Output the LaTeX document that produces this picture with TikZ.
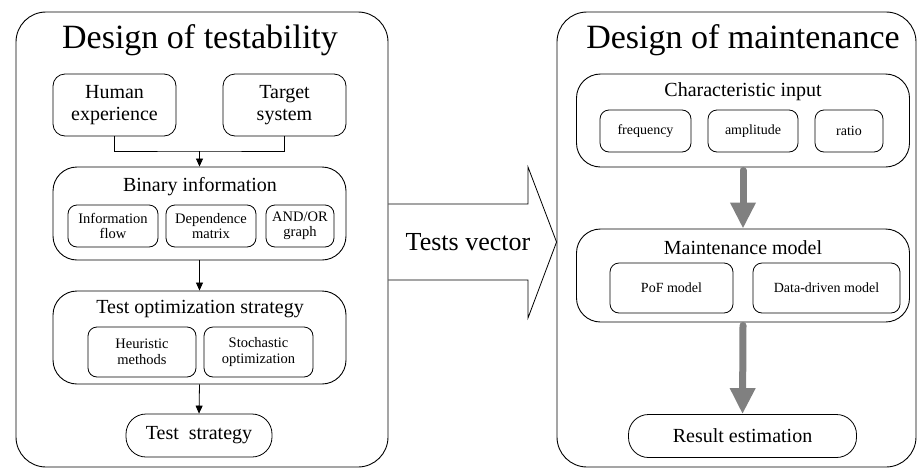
\documentclass[tikz,border=0pt]{standalone}
\usepackage{fontspec}
\setmainfont{Liberation Serif}
\usetikzlibrary{positioning, arrows.meta, calc}
\definecolor{flowgray}{HTML}{808080}
\tikzset{
  outer/.style  = {rectangle, draw, rounded corners=30pt, line width=0.9pt},
  group/.style  = {rectangle, draw, rounded corners=24pt, line width=0.9pt,
                   minimum width=293pt, minimum height=93pt},
  item/.style   = {rectangle, draw, rounded corners=9pt, line width=0.8pt, align=center,
                   inner sep=1pt, font=\fontsize{14.5}{15.5}\selectfont},
  mid/.style    = {rectangle, draw, rounded corners=12pt, line width=0.8pt, align=center,
                   minimum width=123pt, minimum height=62pt, inner sep=1pt,
                   font=\fontsize{20}{22}\selectfont},
  pill/.style   = {rectangle, draw, rounded corners=20pt, line width=0.8pt,
                   minimum height=43pt, font=\fontsize{20}{22}\selectfont},
  head/.style   = {font=\fontsize{34}{38}\selectfont},
  sub/.style    = {font=\fontsize{20}{22}\selectfont},
  flow/.style   = {line width=0.8pt, -{Triangle[length=8pt, width=7pt]}},
  thick flow/.style = {line width=7pt, draw=flowgray, line cap=round,
                   -{Triangle[length=26pt, width=24pt]}},
}

\begin{document}
\begin{tikzpicture}[x=1pt, y=-1pt]
\useasboundingbox (0,0) rectangle (918,469);

% Left part: design of testability
\node (tbox) [outer, minimum width=372pt, minimum height=455pt] at (202,239.5) {};
\node (ttitle) [head] at (200,40) {Design of testability};

\node (human)  [mid] at (114.5,105) {Human\\experience};
\node (target) [mid] at (284.5,105) {Target\\system};

\node (binary) [group] at (199.5,213.5) {};
\node (btitle) [sub] at (200,187) {Binary information};
\node (info)  [item, minimum width=90pt, minimum height=42pt] at (113,226) {Information\\flow};
\node (dep)   [item, minimum width=90pt, minimum height=42pt] at (211,226) {Dependence\\matrix};
\node (andor) [item, minimum width=68pt, minimum height=42pt] at (300,226) {AND/OR\\graph};

\node (opt) [group] at (199.5,337.5) {};
\node (otitle) [sub] at (200,309) {Test optimization strategy};
\node (heur)  [item, minimum width=108pt, minimum height=50pt] at (142,352) {Heuristic\\methods};
\node (stoch) [item, minimum width=109pt, minimum height=50pt] at (258.5,352) {Stochastic\\optimization};

\node (strat) [pill, minimum width=146pt] at (199,435.5) {Test~~strategy};

\coordinate (join) at (199.5,151);
\draw [line width=0.8pt] (human.south) |- (join) -| (target.south);
\draw [flow] (join) -- (binary.north);
\draw [flow] (binary.south) -- (opt.north);
\draw [flow] (opt.south) -- (strat.north);

% Right part: design of maintenance
\node (mbox) [outer, minimum width=359pt, minimum height=455pt] at (736.5,239.5) {};
\node (mtitle) [head] at (743,40) {Design of maintenance};

\node (charin) [group, minimum width=333pt] at (743,120.5) {};
\node (ctitle) [sub] at (743,92) {Characteristic input};
\node (freq) [item, minimum width=91pt, minimum height=42pt, font=\fontsize{14}{15}\selectfont] at (645.5,131) {frequency};
\node (ampl) [item, minimum width=90pt, minimum height=42pt, font=\fontsize{14}{15}\selectfont] at (753,131) {amplitude};
\node (ratio) [item, minimum width=68pt, minimum height=42pt, font=\fontsize{14}{15}\selectfont] at (849,131) {ratio};

\node (model) [group, minimum width=333pt] at (743,275.5) {};
\node (mdtitle) [sub] at (743,248) {Maintenance model};
\node (pof)  [item, minimum width=123pt, minimum height=50pt, font=\fontsize{14}{15}\selectfont] at (671.5,288) {PoF model};
\node (data) [item, minimum width=147pt, minimum height=50pt, font=\fontsize{14}{15}\selectfont] at (826.5,288) {Data-driven model};

\node (result) [pill, minimum width=228pt] at (742.5,436) {Result estimation};

\draw [thick flow] ([yshift=-3pt]charin.south) -- (model.north);
\draw [thick flow] ([yshift=-3pt]model.south) -- (result.north);

% Big arrow between the two parts
\coordinate (a1) at (tbox.east |- 0,204);
\coordinate (a2) at (528,204);
\coordinate (a3) at (528,167);
\coordinate (tip) at (mbox.west |- 0,242);
\coordinate (a5) at (528,318);
\coordinate (a6) at (528,280);
\coordinate (a7) at (tbox.east |- 0,280);
\draw [line width=0.8pt, line join=miter] (a1) -- (a2) -- (a3) -- (tip) -- (a5) -- (a6) -- (a7);
\node (vec) [font=\fontsize{26}{28}\selectfont] at (468,242) {Tests vector};

\end{tikzpicture}
\end{document}
